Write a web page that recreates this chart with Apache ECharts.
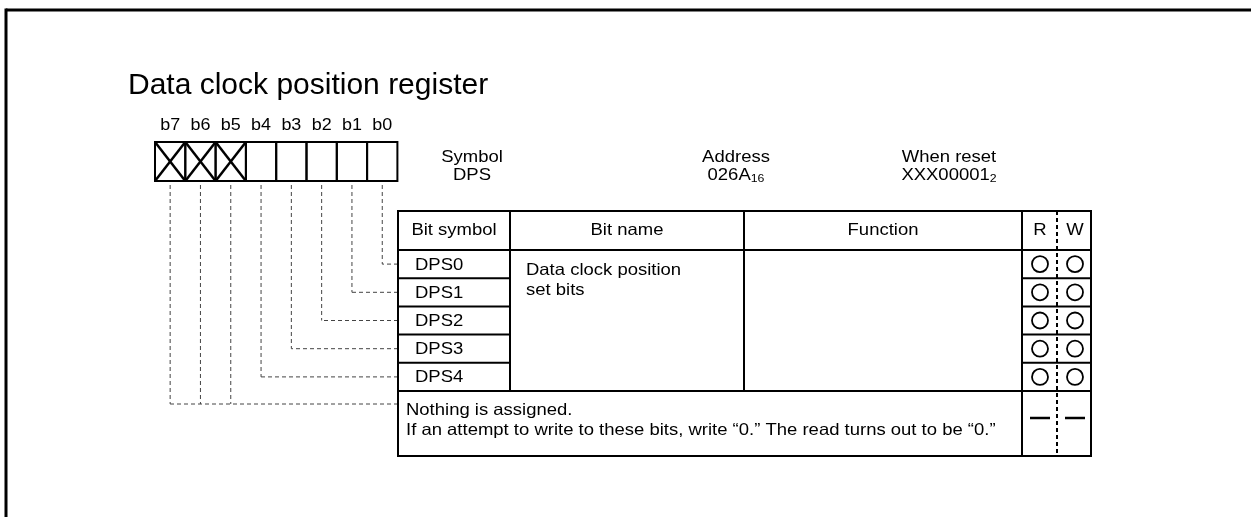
<!DOCTYPE html>
<html><head><meta charset="utf-8">
<script src="https://cdn.jsdelivr.net/npm/echarts@6/dist/echarts.min.js"></script>
<style>html,body{margin:0;padding:0;background:#fff}#c{width:1251px;height:517px}</style>
</head><body><div id="c"></div>
<script>
// ---------- data ----------
const titleText = 'Data clock position register';
const bitLabels = ['b7', 'b6', 'b5', 'b4', 'b3', 'b2', 'b1', 'b0'];
const reservedBits = ['b7', 'b6', 'b5'];
const infoLabels = ['Symbol', 'Address', 'When reset'];
const infoValues = ['DPS', '026A{s|16}', 'XXX00001{s|2}'];
const headerLabels = ['Bit symbol', 'Bit name', 'Function', 'R', 'W'];
const bitSymbols = ['DPS0', 'DPS1', 'DPS2', 'DPS3', 'DPS4'];
const bitNameLines = ['Data clock position', 'set bits'];
const readMarks = ['O', 'O', 'O', 'O', 'O'];
const writeMarks = ['O', 'O', 'O', 'O', 'O'];
const reservedLines = ['Nothing is assigned.', 'If an attempt to write to these bits, write \u201c0.\u201d The read turns out to be \u201c0.\u201d'];
const reservedRW = ['-', '-'];

// ---------- layout (axis units) ----------
const FONT = 'Liberation Sans, Arial, Helvetica, sans-serif';
const LY = {
  frameLeft: 6, frameTop: 10,
  bitLeft: 155, bitW: 30.3, bitTop: 142, bitBottom: 181, bitLabelY: 125.5,
  infoX: [472, 736, 949], infoY1: 157, infoY2: 175,
  tLeft: 398, tRight: 1091, tTop: 211, tHead: 250, rowH: 28.2, tBottom: 456,
  c1: 510, c2: 744, c3: 1022, rw: 1057, rX: 1040, wX: 1075,
  symX: 415, nameX: 526, nameY: 270, nameDy: 20,
  resX: 406, resY: 410, resDy: 20, resConnY: 404, resDashY: 418
};
const FS = 16.5, SX = 1.12;

function txt(p, s, o) {
  o = o || {};
  return { type: 'text', x: p[0], y: p[1], scaleX: SX, style: {
    text: s, x: 0, y: 0, fontSize: o.size || FS, fontFamily: FONT, fill: '#000',
    align: o.align || 'center', verticalAlign: o.va || 'middle',
    lineHeight: o.lh, rich: o.rich } };
}
function line(a, b, w, dash, color) {
  return { type: 'line', shape: { x1: a[0], y1: a[1], x2: b[0], y2: b[1] },
    style: { stroke: color || '#000', lineWidth: w, lineDash: dash || null } };
}
const DASH = [4, 3];

function renderFrame(params, api) {
  const P = (x, y) => api.coord([x, y]);
  return { type: 'group', children: [
    line(P(LY.frameLeft, LY.frameTop), P(1251, LY.frameTop), 3),
    line(P(LY.frameLeft, LY.frameTop - 1.5), P(LY.frameLeft, 517), 3)
  ] };
}

function renderBit(params, api) {
  const P = (x, y) => api.coord([x, y]);
  const i = api.value(0);
  const label = bitLabels[i];
  const x0 = LY.bitLeft + i * LY.bitW, x1 = x0 + LY.bitW, cx = (x0 + x1) / 2;
  const a = P(x0, LY.bitTop), b = P(x1, LY.bitBottom);
  const reserved = reservedBits.includes(label);
  const ch = [
    { type: 'rect', shape: { x: a[0], y: a[1], width: b[0] - a[0], height: b[1] - a[1] },
      style: { fill: 'none', stroke: '#000', lineWidth: 2 } },
    txt(P(cx, LY.bitLabelY), label, { size: 16 })
  ];
  if (reserved) {
    ch.push(line(a, b, 2.5));
    ch.push(line([a[0], b[1]], [b[0], a[1]], 2.5));
  }
  const n = 7 - i;
  const ty = n < bitSymbols.length ? LY.tHead + (n + 0.5) * LY.rowH : LY.resConnY;
  ch.push(line(P(cx, LY.bitBottom + 4), P(cx, ty), 1, DASH, '#444'));
  if (!reserved || label === reservedBits[0]) ch.push(line(P(LY.tLeft, ty), P(cx, ty), 1, DASH, '#444'));
  return { type: 'group', children: ch };
}

function renderInfo(params, api) {
  const P = (x, y) => api.coord([x, y]);
  const i = api.value(0);
  const rich = { s: { fontSize: 11, fontFamily: FONT, lineHeight: 10, verticalAlign: 'bottom' } };
  return { type: 'group', children: [
    txt(P(LY.infoX[i], LY.infoY1), infoLabels[i]),
    txt(P(LY.infoX[i], LY.infoY2), infoValues[i], { lh: 18, rich: rich })
  ] };
}

function renderTable(params, api) {
  const P = (x, y) => api.coord([x, y]);
  const L = LY, rowsBottom = L.tHead + bitSymbols.length * L.rowH;
  const ch = [];
  ch.push({ type: 'rect', shape: (function () { const a = P(L.tLeft, L.tTop), b = P(L.tRight, L.tBottom);
      return { x: a[0], y: a[1], width: b[0] - a[0], height: b[1] - a[1] }; })(),
    style: { fill: 'none', stroke: '#000', lineWidth: 2 } });
  ch.push(line(P(L.tLeft, L.tHead), P(L.tRight, L.tHead), 2));
  ch.push(line(P(L.tLeft, rowsBottom), P(L.tRight, rowsBottom), 2));
  ch.push(line(P(L.c1, L.tTop), P(L.c1, rowsBottom), 2));
  ch.push(line(P(L.c2, L.tTop), P(L.c2, rowsBottom), 2));
  ch.push(line(P(L.c3, L.tTop), P(L.c3, L.tBottom), 2));
  ch.push(line(P(L.rw, L.tTop), P(L.rw, L.tBottom), 2, [4, 3]));
  // header
  const hy = (L.tTop + L.tHead) / 2;
  const hx = [(L.tLeft + L.c1) / 2, (L.c1 + L.c2) / 2, (L.c2 + L.c3) / 2, L.rX, L.wX];
  headerLabels.forEach((h, k) => ch.push(txt(P(hx[k], hy), h)));
  // rows
  bitSymbols.forEach((s, r) => {
    const yTop = L.tHead + r * L.rowH, yc = yTop + L.rowH / 2;
    if (r > 0) {
      ch.push(line(P(L.tLeft, yTop), P(L.c1, yTop), 2));
      ch.push(line(P(L.c3, yTop), P(L.tRight, yTop), 2));
    }
    ch.push(txt(P(L.symX, yc + 1), s, { align: 'left' }));
    [[readMarks[r], L.rX], [writeMarks[r], L.wX]].forEach(m => {
      if (m[0] === 'O') {
        const c = P(m[1], yc), e = P(m[1] + 8, yc);
        ch.push({ type: 'circle', shape: { cx: c[0], cy: c[1], r: e[0] - c[0] },
          style: { fill: 'none', stroke: '#000', lineWidth: 1.8 } });
      }
    });
  });
  bitNameLines.forEach((t, k) => ch.push(txt(P(L.nameX, L.nameY + k * L.nameDy), t, { align: 'left' })));
  reservedLines.forEach((t, k) => ch.push(txt(P(L.resX, L.resY + k * L.resDy), t, { align: 'left' })));
  [[reservedRW[0], L.rX], [reservedRW[1], L.wX]].forEach(m => {
    if (m[0] === '-') ch.push(line(P(m[1] - 10, L.resDashY), P(m[1] + 10, L.resDashY), 2.5));
  });
  return { type: 'group', children: ch };
}

const chart = echarts.init(document.getElementById('c'), null, { renderer: 'canvas' });
chart.setOption({
  animation: false,
  backgroundColor: '#fff',
  title: { text: titleText, left: 123, top: 66,
    textStyle: { fontSize: 30, fontWeight: 'normal', color: '#000', fontFamily: FONT } },
  grid: { left: 0, right: 0, top: 0, bottom: 0 },
  xAxis: { type: 'value', min: 0, max: 1251, show: false },
  yAxis: { type: 'value', min: 0, max: 517, inverse: true, show: false },
  series: [
    { type: 'custom', clip: false, silent: true, renderItem: renderFrame, data: [[0]] },
    { type: 'custom', clip: false, silent: true, renderItem: renderBit, data: bitLabels.map((b, i) => [i]) },
    { type: 'custom', clip: false, silent: true, renderItem: renderInfo, data: infoLabels.map((b, i) => [i]) },
    { type: 'custom', clip: false, silent: true, renderItem: renderTable, data: [[0]] }
  ]
});
</script></body></html>
